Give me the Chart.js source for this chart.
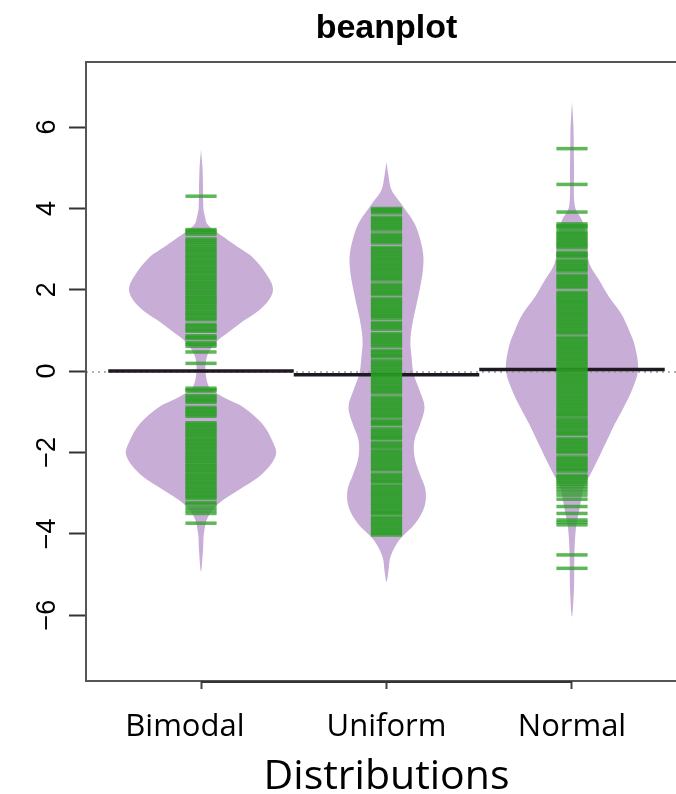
<!DOCTYPE html>
<html>
<head>
<meta charset="utf-8">
<script src="https://cdn.jsdelivr.net/npm/chart.js@4.4.1/dist/chart.umd.min.js"></script>
<style>
  html, body { margin: 0; padding: 0; background: #fff; overflow: hidden; }
  canvas { display: block; }
</style>
</head>
<body>
<canvas id="bean" width="720" height="794"></canvas>
<script>
// Groups and axis ticks
const categories = ['Bimodal', 'Uniform', 'Normal'];
const yTicks = [-6, -4, -2, 0, 2, 4, 6];

// Group averages and the overall average
const groupMeans = [0.00, -0.09, 0.04];
const overallMean = -0.02;

// Density outlines: value grid and half-width (in group units)
const bimodalDensY = [5.45, 5.0, 4.5, 4.0, 3.79, 3.63, 3.46, 3.22, 3.0, 2.81, 2.40, 1.99, 1.58, 1.17, 0.95, 0.76, 0.55, 0.35, 0.02, -0.39, -0.55, -0.71, -0.88, -1.29, -1.70, -2.06, -2.51, -2.92, -3.25, -3.58, -3.98, -4.4, -4.93];
const bimodalDensW = [0, 0.008, 0.011, 0.013, 0.022, 0.032, 0.070, 0.146, 0.216, 0.275, 0.350, 0.388, 0.334, 0.210, 0.146, 0.092, 0.054, 0.032, 0.024, 0.043, 0.086, 0.151, 0.226, 0.329, 0.383, 0.404, 0.334, 0.205, 0.097, 0.038, 0.016, 0.011, 0];

const uniformDensY = [5.14, 4.8, 4.45, 4.20, 4.00, 3.63, 3.22, 2.81, 2.40, 1.99, 1.58, 1.17, 0.76, 0.35, -0.06, -0.47, -0.88, -1.29, -1.70, -2.11, -2.51, -2.92, -3.33, -3.74, -4.15, -4.56, -4.9, -5.18];
const uniformDensW = [0, 0.011, 0.027, 0.065, 0.097, 0.151, 0.183, 0.199, 0.194, 0.178, 0.159, 0.140, 0.129, 0.135, 0.146, 0.178, 0.205, 0.183, 0.151, 0.151, 0.178, 0.210, 0.205, 0.156, 0.070, 0.022, 0.011, 0];

const normalDensY = [6.62, 6.0, 5.0, 4.04, 3.71, 3.38, 3.05, 2.80, 2.56, 2.24, 1.83, 1.42, 1.01, 0.60, 0.02, -0.47, -0.88, -1.29, -1.70, -2.11, -2.51, -2.84, -3.33, -3.83, -4.5, -5.3, -6.04];
const normalDensW = [0, 0.008, 0.011, 0.016, 0.054, 0.075, 0.084, 0.086, 0.102, 0.146, 0.199, 0.264, 0.307, 0.340, 0.356, 0.323, 0.280, 0.232, 0.189, 0.146, 0.102, 0.065, 0.043, 0.022, 0.013, 0.011, 0];

// Observations (one bean line each)
const bimodalObs = [4.30,
  3.48, 3.45, 3.41, 3.36, 3.25, 3.21, 3.16, 3.12, 3.06, 3.02, 2.97, 2.93, 2.88, 2.83, 2.79, 2.74, 2.69, 2.65, 2.60,
  2.55, 2.51, 2.46, 2.42, 2.37, 2.32, 2.28, 2.23, 2.18, 2.14, 2.09, 2.05, 2.00, 1.95, 1.91, 1.86, 1.81, 1.77, 1.72,
  1.68, 1.63, 1.58, 1.54, 1.49, 1.44, 1.40, 1.35, 1.30, 1.26, 1.15, 1.11, 1.06, 1.01, 0.98, 0.87, 0.83, 0.80, 0.70,
  0.66, 0.61, 0.47, 0.19,
  -0.42, -0.46, -0.49, -0.60, -0.64, -0.69, -0.73, -0.77, -0.89, -0.93, -0.98, -1.02, -1.07, -1.11, -1.27, -1.31,
  -1.36, -1.40, -1.45, -1.49, -1.54, -1.58, -1.63, -1.68, -1.72, -1.77, -1.81, -1.86, -1.90, -1.95, -2.00, -2.04,
  -2.09, -2.13, -2.18, -2.22, -2.27, -2.32, -2.36, -2.41, -2.45, -2.50, -2.55, -2.59, -2.64, -2.68, -2.73, -2.77,
  -2.82, -2.87, -2.91, -2.96, -3.00, -3.05, -3.09, -3.13, -3.23, -3.27, -3.36, -3.43, -3.50, -3.74];

const uniformObs = [4.00, 3.97, 3.93, 3.89, 3.78, 3.74, 3.70, 3.65, 3.61, 3.56, 3.52, 3.47, 3.37, 3.33, 3.28, 3.24,
  3.19, 3.15, 3.04, 3.00, 2.95, 2.91, 2.86, 2.82, 2.77, 2.73, 2.68, 2.64, 2.59, 2.55, 2.50, 2.46, 2.41, 2.37, 2.32,
  2.28, 2.24, 2.14, 2.10, 2.05, 2.01, 1.96, 1.92, 1.88, 1.78, 1.74, 1.69, 1.65, 1.60, 1.56, 1.51, 1.47, 1.42, 1.38,
  1.34, 1.30, 1.20, 1.16, 1.11, 1.07, 1.02, 0.92, 0.88, 0.83, 0.79, 0.74, 0.70, 0.65, 0.61, 0.51, 0.47, 0.42, 0.38,
  0.35, 0.26, 0.22, 0.17, 0.13, 0.08, 0.04, -0.01, -0.05, -0.10, -0.14, -0.19, -0.23, -0.28, -0.32, -0.37, -0.41,
  -0.46, -0.50, -0.54, -0.64, -0.68, -0.73, -0.77, -0.82, -0.86, -0.91, -0.95, -1.00, -1.04, -1.09, -1.12, -1.21,
  -1.25, -1.29, -1.32, -1.42, -1.46, -1.51, -1.55, -1.60, -1.64, -1.66, -1.75, -1.79, -1.84, -1.87, -1.95, -1.99,
  -2.04, -2.08, -2.13, -2.17, -2.22, -2.26, -2.31, -2.35, -2.40, -2.43, -2.53, -2.57, -2.62, -2.66, -2.71, -2.73,
  -2.81, -2.85, -2.90, -2.94, -2.99, -3.03, -3.08, -3.12, -3.17, -3.21, -3.26, -3.30, -3.35, -3.39, -3.44, -3.48,
  -3.50, -3.59, -3.63, -3.68, -3.72, -3.77, -3.81, -3.86, -3.90, -3.95, -3.99, -4.03];

const normalObs = [5.47, 4.59, 3.91, 3.62, 3.58, 3.55, 3.51, 3.43, 3.39, 3.35, 3.30, 3.26, 3.21, 3.17, 3.12, 3.08,
  3.03, 2.92, 2.88, 2.84, 2.81, 2.72, 2.68, 2.63, 2.59, 2.54, 2.50, 2.46, 2.36, 2.32, 2.27, 2.23, 2.18, 2.14, 2.09,
  2.05, 1.94, 1.90, 1.85, 1.81, 1.76, 1.72, 1.68, 1.63, 1.59, 1.54, 1.50, 1.45, 1.41, 1.36, 1.32, 1.27, 1.23, 1.18,
  1.14, 1.09, 1.05, 1.00, 0.96, 0.92, 0.83, 0.79, 0.74, 0.70, 0.65, 0.61, 0.56, 0.52, 0.47, 0.43, 0.38, 0.34, 0.29,
  0.25, 0.20, 0.16, 0.11, 0.07, 0.02, -0.02, -0.07, -0.11, -0.16, -0.20, -0.25, -0.29, -0.34, -0.38, -0.43, -0.47,
  -0.52, -0.56, -0.61, -0.65, -0.70, -0.74, -0.79, -0.83, -0.88, -0.92, -0.97, -1.01, -1.06, -1.09, -1.17, -1.21,
  -1.26, -1.30, -1.35, -1.38, -1.44, -1.48, -1.53, -1.56, -1.66, -1.70, -1.75, -1.79, -1.84, -1.88, -1.93, -1.97,
  -2.01, -2.11, -2.15, -2.20, -2.24, -2.29, -2.33, -2.38, -2.42, -2.46, -2.56, -2.60, -2.65, -2.69, -2.74, -2.78,
  -2.84, -2.90, -2.97, -3.05, -3.15, -3.33, -3.50, -3.66, -3.72, -3.78, -4.52, -4.85];

const densY = [bimodalDensY, uniformDensY, normalDensY];
const densW = [bimodalDensW, uniformDensW, normalDensW];
const observations = [bimodalObs, uniformObs, normalObs];

const BEAN_FILL = '#c8aed6';
const BEAN_LINE = 'rgba(42,158,36,0.75)';
const MEAN_LINE = '#1f1a22';

// Closed outline of one bean: down the right side, back up the left side
function beanOutline(pos, ys, ws) {
  const right = ys.map((y, i) => ({ x: pos + ws[i], y }));
  const left = [];
  for (let i = ys.length - 2; i >= 1; i--) left.push({ x: pos - ws[i], y: ys[i] });
  return right.concat(left);
}

const datasets = [];

// bean lines, one short horizontal stroke per observation
observations.forEach((obs, g) => {
  datasets.push({
    type: 'scatter',
    data: obs.map(v => ({ x: g + 1, y: v })),
    pointStyle: 'line',
    pointRadius: 15.6,
    pointHoverRadius: 15.6,
    pointBorderWidth: 3.5,
    pointBorderColor: BEAN_LINE,
    pointBackgroundColor: BEAN_LINE,
    order: 0
  });
});

// group averages
groupMeans.forEach((m, g) => {
  datasets.push({
    type: 'line',
    data: [{ x: g + 0.5, y: m }, { x: g + 1.5, y: m }],
    borderColor: MEAN_LINE,
    borderWidth: 3.5,
    pointRadius: 0,
    fill: false,
    order: 1
  });
});

// overall average
datasets.push({
  type: 'line',
  data: [{ x: 0.38, y: overallMean }, { x: 3.62, y: overallMean }],
  borderColor: '#9a9a9a',
  borderWidth: 1.5,
  borderDash: [2, 4],
  pointRadius: 0,
  fill: false,
  order: 2
});

// bean shapes
densY.forEach((ys, g) => {
  datasets.push({
    type: 'line',
    data: beanOutline(g + 1, ys, densW[g]),
    borderWidth: 0,
    borderColor: 'rgba(0,0,0,0)',
    backgroundColor: BEAN_FILL,
    pointRadius: 0,
    tension: 0.35,
    fill: 'shape',
    order: 3
  });
});

// frame around the plot region plus the bottom axis line
const framePlugin = {
  id: 'frame',
  afterDatasetsDraw(chart) {
    const { ctx, chartArea: a, scales: { x } } = chart;
    ctx.save();
    ctx.strokeStyle = '#555';
    ctx.lineWidth = 2;
    ctx.strokeRect(a.left, a.top, a.right - a.left, a.bottom - a.top);
    ctx.strokeStyle = '#333';
    ctx.beginPath();
    ctx.moveTo(x.getPixelForValue(1), a.bottom + 1);
    ctx.lineTo(x.getPixelForValue(3), a.bottom + 1);
    ctx.stroke();
    ctx.restore();
  }
};

const fmt = v => (v < 0 ? '\u2212' + Math.abs(v) : String(v));
// the first group label sits a little left of its tick
const tickLabel = v => (v === 1 ? categories[0] + '\u00a0\u00a0\u00a0\u00a0' : categories[v - 1]);

new Chart(document.getElementById('bean'), {
  type: 'line',
  data: { datasets },
  options: {
    responsive: false,
    animation: false,
    devicePixelRatio: 1,
    events: [],
    layout: { padding: { left: 0, right: 33, top: 0, bottom: 0 } },
    plugins: {
      legend: { display: false },
      tooltip: { enabled: false },
      title: {
        display: true,
        text: 'beanplot',
        fullSize: false,
        color: '#000',
        font: { family: 'Liberation Sans', size: 34, weight: 'bold' },
        padding: { top: 8, bottom: 13.2 }
      }
    },
    scales: {
      x: {
        type: 'linear',
        min: 0.38,
        max: 3.62,
        afterBuildTicks: s => { s.ticks = categories.map((c, i) => ({ value: i + 1 })); },
        afterFit: s => { s.height = 113; },
        ticks: {
          callback: v => tickLabel(v),
          color: '#000',
          font: { family: 'Open Sans', size: 31 },
          padding: 20,
          maxRotation: 0,
          autoSkip: false
        },
        grid: { drawOnChartArea: false, drawTicks: true, tickLength: 8, tickColor: '#444', tickWidth: 2 },
        border: { display: false },
        title: {
          display: true,
          text: 'Distributions',
          color: '#000',
          font: { family: 'Open Sans', size: 41, lineHeight: 0.8 },
          padding: { top: 0, bottom: 0 }
        }
      },
      y: {
        type: 'linear',
        min: -7.62,
        max: 7.6,
        afterBuildTicks: s => { s.ticks = yTicks.map(v => ({ value: v })); },
        afterFit: s => { s.width = 86; },
        ticks: {
          callback: v => fmt(v),
          color: '#000',
          font: { family: 'Liberation Sans', size: 27 },
          minRotation: 90,
          maxRotation: 90,
          crossAlign: 'center',
          padding: 6.5
        },
        grid: { drawOnChartArea: false, drawTicks: true, tickLength: 17, tickColor: '#333', tickWidth: 2 },
        border: { display: false }
      }
    }
  },
  plugins: [framePlugin]
});
</script>
</body>
</html>
